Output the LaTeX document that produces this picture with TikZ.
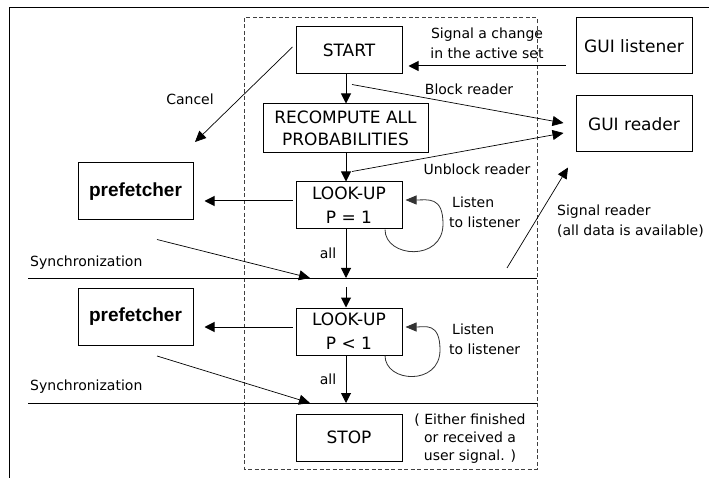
\documentclass[tikz,border=0pt]{standalone}
\usepackage{fontspec}
\setmainfont{DejaVu Sans}
\newfontfamily\pfont{Liberation Sans}
\usetikzlibrary{arrows.meta,calc}
\begin{document}
\begin{tikzpicture}[x=1pt,y=-1pt,
  box/.style={draw=black, line width=1pt, inner sep=0pt, font=\fontsize{17}{22}\selectfont, align=center},
  pbox/.style={draw=black, line width=1pt, inner sep=0pt, font=\pfont\bfseries\fontsize{19}{22}\selectfont,
     minimum width=115pt, minimum height=57pt},
  sbox/.style={box, minimum width=106pt, minimum height=47pt},
  gbox/.style={box, minimum width=116pt, minimum height=56pt},
  lbl/.style={font=\fontsize{14}{20}\selectfont, inner sep=0pt},
  arr/.style={-{Triangle[length=10pt,width=10pt]}, line width=1pt},
  tarr/.style={-{Triangle[length=11pt,width=10pt]}, line width=0.7pt},
  loopline/.style={-{Triangle[length=11pt,width=9pt]}, line width=0.8pt, draw=black!80},
  frame/.style={line width=1pt},
  dashbox/.style={draw=black!75, line width=1pt, dash pattern=on 4pt off 2.5pt},
]
\useasboundingbox (0,0) rectangle (709,478);
% outer frame (top and left)
\draw[frame] (9,478) -- (9,8) -- (709,8);
% dashed area
\draw[dashbox] (244,18) rectangle (537,469);

% nodes
\node[sbox] (start) at (349,50.5) {START};
\node[box, minimum width=165pt, minimum height=49pt] (recomp) at (345.5,128.5) {RECOMPUTE ALL\\PROBABILITIES};
\node[sbox, font=\fontsize{17}{24}\selectfont] (look1) at (349,205.5) {LOOK-UP\\P = 1};
\node[sbox, font=\fontsize{17}{24}\selectfont] (look2) at (349,331.5) {LOOK-UP\\P < 1};
\node[sbox] (stop) at (349,437.5) {STOP};
\node[gbox] (listener) at (634,46) {GUI listener};
\node[gbox] (reader) at (634,124) {GUI reader};
\node[pbox] (pref1) at (135.5,191.5) {prefetcher};
\node[pbox] (pref2) at (135.5,317) {prefetcher};

% synchronization lines
\coordinate (s1a) at (28,278);
\coordinate (s1b) at (537,278);
\coordinate (s2a) at (28,403);
\coordinate (s2b) at (537,403);
\draw[line width=1pt] (s1a) -- (s1b);
\draw[line width=1pt] (s2a) -- (s2b);
\node[lbl, anchor=west] (sync1) at (30,263) {Synchronization};
\node[lbl, anchor=west] (sync2) at (30,387) {Synchronization};

% main vertical flow
\coordinate (d1) at (346,278);
\coordinate (u1) at (346,287);
\coordinate (d2) at (346,403);
\draw[arr] ($(start.south)+(-3,0)$) -- ($(recomp.north)+(0.5,0)$);
\draw[arr] ($(recomp.south)+(0.5,0)$) -- ($(look1.north)+(-3,0)$);
\draw[arr] ($(look1.south)+(-3,0)$) -- (d1);
\draw[arr] (u1) -- ($(look2.north)+(-3,0)$);
\draw[arr] ($(look2.south)+(-3,0)$) -- (d2);
\node[lbl] (all1) at (328,253) {all};
\node[lbl] (all2) at (328,379) {all};

% to prefetchers
\draw[arr] ($(look1.west)+(-3,-4.5)$) -- ($(pref1.east)+(11,9.5)$);
\draw[arr] ($(look2.west)+(-3,-4.5)$) -- ($(pref2.east)+(11,10)$);

% prefetchers to synchronization
\coordinate (p1s) at (310,278);
\coordinate (p2s) at (310,403);
\draw[tarr] ($(pref1.south)+(21.5,19)$) -- (p1s);
\draw[tarr] ($(pref2.south)+(21.5,10)$) -- (p2s);

% cancel
\coordinate (cancelend) at (195,142);
\draw[tarr] ($(start.west)+(-3,-3.5)$) -- (cancelend);
\node[lbl] (cancel) at (190,99) {Cancel};

% GUI listener to start
\draw[arr] ($(listener.west)+(-10,20)$) -- ($(start.east)+(6,15.5)$);
\node[lbl, align=center] (sigchg) at (487,43) {Signal a change\\in the active set};

% block / unblock reader
\draw[tarr] ($(start.south)+(3,10)$) -- ($(reader.west)+(-12,-1)$);
\node[lbl] (block) at (469,89) {Block reader};
\draw[tarr] ($(look1.north)+(3,-10)$) -- ($(reader.west)+(-12,9)$);
\node[lbl] (unblock) at (477,169) {Unblock reader};

% signal reader
\coordinate (sigfrom) at (507,268);
\draw[tarr] (sigfrom) -- ($(reader.south)+(-66,15)$);
\node[lbl, align=left, anchor=north west] (sigread) at (557,205) {Signal reader\\(all data is available)};

% self loops
\draw[loopline] ($(look1.south)+(36,0)$) .. controls (385,258) and (443,262) .. (443,224)
   .. controls (443,196) and (428,200) .. ($(look1.east)+(3,-5.5)$);
\node[lbl, align=left, anchor=north west] (listen1) at (449,197) {\hspace{3pt}Listen\\to listener};
\draw[loopline] ($(look2.south)+(36,0)$) .. controls (385,383) and (440,386) .. (440,350)
   .. controls (440,322) and (425,327) .. ($(look2.east)+(3,-4.5)$);
\node[lbl, align=left, anchor=north west] (listen2) at (449,324) {\hspace{3pt}Listen\\to listener};

% stop note
\node[lbl, align=center, font=\fontsize{14}{18}\selectfont] (note) at (470,439) {( Either finished\\or received a\\user signal. )};
\end{tikzpicture}
\end{document}
